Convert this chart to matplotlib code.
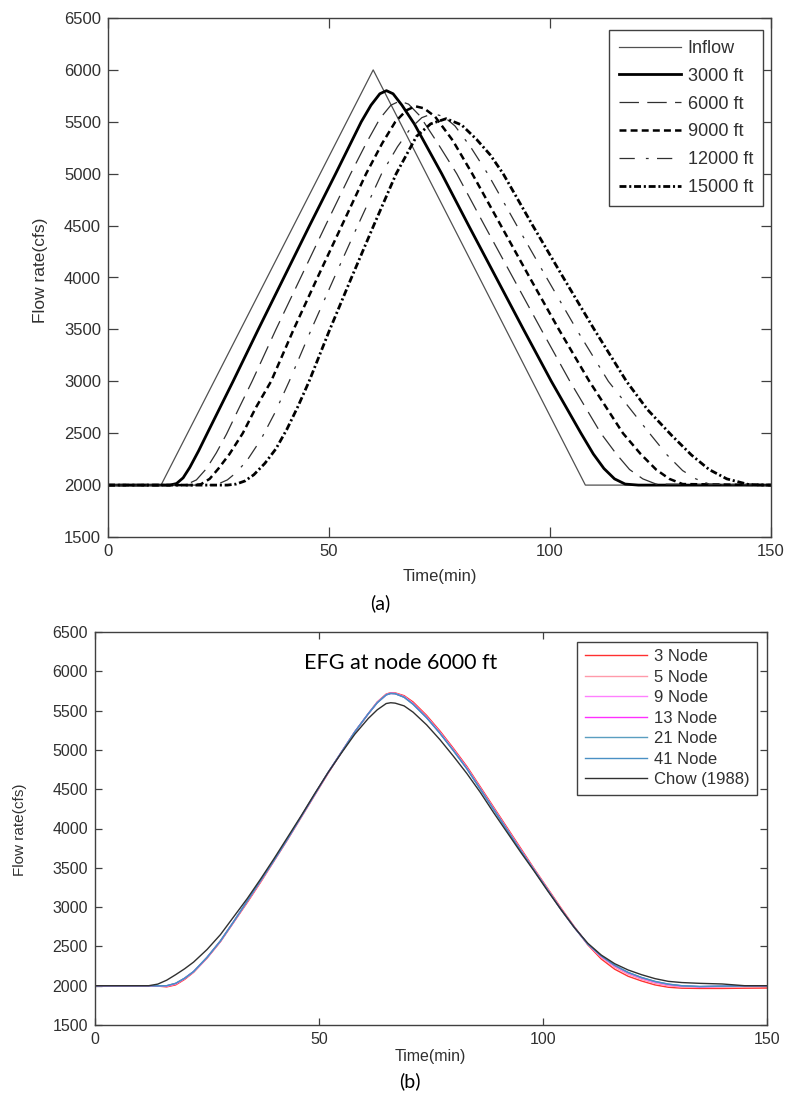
import matplotlib
matplotlib.use('Agg')
import matplotlib.pyplot as plt

plt.rcParams['font.family'] = ['Liberation Sans', 'DejaVu Sans']
plt.rcParams['lines.scale_dashes'] = False

# ---- panel (a): routed hydrographs at several distances ----
inflow_t = [0, 12, 60, 108, 150]
inflow_q = [2000, 2000, 6000, 2000, 2000]

ft3000_t = [0, 14, 15.5, 17, 18.5, 20.5, 22.7, 25.5, 28.3, 34.0, 39.8, 45.6, 51.5, 57.3, 59.5, 61.5, 63.0,
            64.5, 66.5, 69.3, 75.5, 81.6, 87.8, 94.0, 100.3, 107.0, 109.8, 112.2, 114.6, 117, 120, 150]
ft3000_q = [2000, 2000, 2015, 2070, 2170, 2330, 2520, 2760, 3000, 3500, 4000, 4500, 5000, 5500, 5660, 5770, 5800,
            5770, 5660, 5480, 5000, 4500, 4000, 3500, 3000, 2500, 2300, 2160, 2060, 2010, 2000, 2000]

ft6000_t = [0, 16.5, 18, 20, 22.3, 24.5, 26.8, 29.5, 32.6, 38.0, 43.6, 49.2, 54.9, 58.5, 61.5, 64, 66,
            68, 70.5, 74.5, 78.9, 85.2, 91.6, 98.0, 104.5, 111.5, 115, 118, 121, 124, 150]
ft6000_q = [2000, 2000, 2010, 2050, 2160, 2310, 2490, 2730, 3000, 3500, 4000, 4500, 5000, 5300, 5530, 5660, 5700,
            5670, 5560, 5300, 5000, 4500, 4000, 3500, 3000, 2500, 2300, 2150, 2060, 2010, 2000]

ft9000_t = [0, 19.5, 21, 23, 25, 27.5, 30.5, 33.5, 36.9, 42.0, 47.4, 52.9, 58.4, 62, 65, 67.5, 69.5,
            71.5, 74, 78, 82.4, 88.9, 95.4, 102.0, 108.9, 116.5, 120.5, 124, 127, 130, 150]
ft9000_q = [2000, 2000, 2008, 2060, 2160, 2300, 2500, 2750, 3000, 3500, 4000, 4500, 5000, 5290, 5500, 5610, 5650,
            5630, 5550, 5320, 5000, 4500, 4000, 3500, 3000, 2500, 2300, 2150, 2060, 2010, 2000]

ft12000_t = [0, 23, 25, 27, 29, 31.5, 34.6, 37.8, 41.0, 46.0, 51.2, 56.5, 61.9, 65.5, 68.5, 71, 73.5,
             76, 78.5, 82, 85.9, 92.5, 99.2, 106.0, 113.2, 122.5, 126.5, 130, 133, 136, 150]
ft12000_q = [2000, 2000, 2012, 2050, 2120, 2240, 2440, 2700, 3000, 3500, 4000, 4500, 5000, 5260, 5440, 5540, 5580,
             5550, 5460, 5260, 5000, 4500, 4000, 3500, 3000, 2500, 2290, 2140, 2060, 2010, 2000]

ft15000_t = [0, 27, 29, 31, 33, 35.5, 38, 40.5, 43, 45.5, 50.0, 55.0, 60.1, 65.2, 69.8, 73, 76.5, 80,
             83.4, 86.5, 89.4, 96.1, 103.0, 110.0, 117.3, 122, 127.5, 132, 136, 140, 145, 150]
ft15000_q = [2000, 2000, 2010, 2040, 2100, 2210, 2350, 2540, 2760, 3000, 3480, 3990, 4500, 5000, 5360, 5480, 5530,
             5470, 5330, 5180, 5000, 4500, 4000, 3500, 3000, 2730, 2480, 2290, 2150, 2060, 2005, 2000]

# ---- panel (b): EFG at node 6000 ft ----
t_b = [0, 12, 14, 16, 18, 20, 22, 25, 28, 31, 34, 37, 40, 43, 46, 49, 52, 55, 58, 61, 63, 65, 66, 67, 69, 71,
       74, 77, 80, 83, 86, 89, 92, 95, 98, 101, 104, 107, 110, 113, 116, 119, 122, 125, 128, 131, 135, 140,
       145, 150]
node3_q = [2000, 2000, 1995, 1985, 2010, 2080, 2170, 2350, 2560, 2810, 3060, 3320, 3590, 3860, 4140, 4420,
           4700, 4970, 5230, 5460, 5610, 5710, 5728, 5725, 5690, 5610, 5440, 5240, 5020, 4790, 4530, 4270,
           4010, 3750, 3490, 3240, 2990, 2750, 2520, 2340, 2210, 2120, 2060, 2010, 1980, 1968, 1965, 1965,
           1968, 1970]
node5_q = [2000, 2000, 1997, 1992, 2020, 2090, 2175, 2355, 2565, 2815, 3070, 3330, 3595, 3865, 4145, 4425,
           4705, 4970, 5230, 5460, 5605, 5705, 5722, 5720, 5680, 5595, 5425, 5225, 5005, 4775, 4515, 4255,
           3995, 3735, 3480, 3230, 2980, 2745, 2525, 2360, 2235, 2145, 2080, 2030, 1998, 1985, 1980, 1982,
           1988, 1992]
node9_q = [2000, 2000, 1998, 1996, 2025, 2092, 2178, 2358, 2568, 2818, 3075, 3335, 3598, 3868, 4148, 4428,
           4708, 4970, 5230, 5460, 5602, 5702, 5720, 5717, 5675, 5588, 5418, 5218, 4998, 4768, 4508, 4248,
           3988, 3728, 3475, 3225, 2975, 2742, 2528, 2370, 2248, 2158, 2093, 2043, 2010, 1993, 1986, 1990,
           1995, 1997]
node13_q = [2000, 2000, 1998, 1998, 2028, 2094, 2179, 2359, 2569, 2819, 3078, 3338, 3599, 3869, 4149, 4429,
            4709, 4970, 5230, 5460, 5601, 5701, 5719, 5716, 5672, 5584, 5414, 5214, 4994, 4764, 4504, 4244,
            3984, 3724, 3472, 3222, 2972, 2741, 2529, 2375, 2255, 2165, 2100, 2050, 2016, 1997, 1988, 1993,
            1997, 1999]
node21_q = [2000, 2000, 1998, 2000, 2030, 2095, 2180, 2360, 2570, 2820, 3080, 3340, 3600, 3870, 4150, 4430,
            4710, 4970, 5230, 5460, 5600, 5700, 5718, 5715, 5670, 5582, 5412, 5212, 4992, 4762, 4502, 4242,
            3982, 3722, 3471, 3221, 2971, 2740, 2530, 2378, 2258, 2168, 2103, 2053, 2019, 1999, 1989, 1994,
            1998, 2000]
node41_q = [2000, 2000, 1998, 2000, 2030, 2095, 2180, 2360, 2570, 2820, 3080, 3340, 3600, 3870, 4150, 4430,
            4710, 4970, 5230, 5460, 5600, 5700, 5718, 5715, 5670, 5580, 5410, 5210, 4990, 4760, 4500, 4240,
            3980, 3720, 3470, 3220, 2970, 2740, 2530, 2380, 2260, 2170, 2105, 2055, 2020, 2000, 1990, 1995,
            1998, 2000]
chow_q = [2000, 2000, 2020, 2070, 2140, 2215, 2300, 2460, 2650, 2880, 3110, 3360, 3620, 3890, 4160, 4440,
          4710, 4960, 5200, 5400, 5510, 5590, 5600, 5595, 5560, 5480, 5320, 5130, 4920, 4700, 4460, 4200,
          3950, 3700, 3460, 3210, 2970, 2740, 2540, 2390, 2280, 2200, 2140, 2090, 2055, 2040, 2030, 2022,
          2000, 2000]

node_labels = ['3 Node', '5 Node', '9 Node', '13 Node', '21 Node', '41 Node', 'Chow (1988)']
node_colors = ['#ff3030', '#ff9aaa', '#ff80ff', '#ff30ff', '#5a9ec0', '#4a90c4', '#303030']

W, H = 790, 1097
fig = plt.figure(figsize=(W / 100, H / 100), dpi=100)


def px_axes(l, t, r, b):
    return fig.add_axes([l / W, 1 - b / H, (r - l) / W, (b - t) / H])


def matlab_style(ax, size, ticklen):
    for s in ax.spines.values():
        s.set_color('#404040')
        s.set_linewidth(1.0)
    ax.tick_params(direction='in', top=True, right=True, length=ticklen, width=0.9,
                   color='#404040', labelsize=size, labelcolor='#303030', pad=5)


# panel (a)
ax1 = px_axes(108, 18, 771, 537)
ax1.plot(inflow_t, inflow_q, color='#505050', lw=0.9, label='Inflow')
ax1.plot(ft3000_t, ft3000_q, color='black', lw=2.0, label='3000 ft')
ax1.plot(ft6000_t, ft6000_q, color='#303030', lw=0.9, dashes=(14, 6), label='6000 ft')
ax1.plot(ft9000_t, ft9000_q, color='black', lw=1.8, dashes=(5, 3), label='9000 ft')
ax1.plot(ft12000_t, ft12000_q, color='#303030', lw=0.9, dashes=(11, 8, 2, 6), label='12000 ft')
ax1.plot(ft15000_t, ft15000_q, color='black', lw=2.0, dashes=(5, 2, 1.5, 2), label='15000 ft')
ax1.set_xlim(0, 150)
ax1.set_ylim(1500, 6500)
ax1.set_xticks([0, 50, 100, 150])
ax1.set_yticks(range(1500, 6501, 500))
matlab_style(ax1, 12, 7)
leg1 = ax1.legend(loc='upper right', bbox_to_anchor=(0.988, 0.977), borderaxespad=0,
                  fontsize=13, handlelength=3.4, handletextpad=0.4, labelspacing=0.6,
                  fancybox=False, framealpha=1, edgecolor='#404040', borderpad=0.55)
leg1.get_frame().set_linewidth(1.0)
for txt in leg1.get_texts():
    txt.set_color('#303030')
fig.text(440 / W, 1 - 577 / H, 'Time(min)', ha='center', va='center', fontsize=12, color='#303030')
fig.text(40 / W, 1 - 270 / H, 'Flow rate(cfs)', ha='center', va='center', rotation=90,
         fontsize=12.5, color='#303030')
fig.text(380 / W, 1 - 603 / H, '(a)', ha='center', va='center', fontsize=14,
         family=['Lato', 'DejaVu Sans'])

# panel (b)
ax2 = px_axes(95, 632, 767, 1025)
series_b = [node3_q, node5_q, node9_q, node13_q, node21_q, node41_q, chow_q]
for q, lab, col in zip(series_b, node_labels, node_colors):
    ax2.plot(t_b, q, color=col, lw=1.0, label=lab)
ax2.set_xlim(0, 150)
ax2.set_ylim(1500, 6500)
ax2.set_xticks([0, 50, 100, 150])
ax2.set_yticks(range(1500, 6501, 500))
matlab_style(ax2, 11.5, 5)
leg2 = ax2.legend(loc='upper right', bbox_to_anchor=(0.985, 0.975), borderaxespad=0,
                  fontsize=12, handlelength=3.75, handletextpad=0.4, labelspacing=0.33,
                  fancybox=False, framealpha=1, edgecolor='#404040', borderpad=0.45)
leg2.get_frame().set_linewidth(1.0)
for txt in leg2.get_texts():
    txt.set_color('#303030')
ax2.text(0.455, 0.921, 'EFG at node 6000 ft', transform=ax2.transAxes, ha='center', va='center',
         fontsize=15.5, family=['Lato', 'DejaVu Sans'])
fig.text(430 / W, 1 - 1057 / H, 'Time(min)', ha='center', va='center', fontsize=11.5, color='#303030')
fig.text(20 / W, 1 - 830 / H, 'Flow rate(cfs)', ha='center', va='center', rotation=90,
         fontsize=11, color='#303030')
fig.text(410 / W, 1 - 1081 / H, '(b)', ha='center', va='center', fontsize=14,
         family=['Lato', 'DejaVu Sans'])

fig.savefig('out.png', dpi=100)
